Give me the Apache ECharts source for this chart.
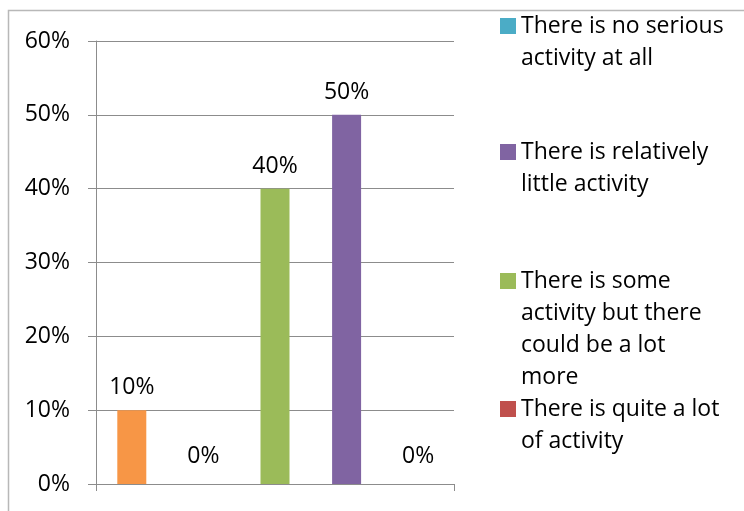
<!DOCTYPE html>
<html>
<head>
<meta charset="utf-8">
<script src="https://cdn.jsdelivr.net/npm/echarts@6/dist/echarts.min.js"></script>
<style>
  html, body { margin: 0; padding: 0; background: #fff; }
  #chart { width: 744px; height: 511px; }
</style>
</head>
<body>
<div id="chart"></div>
<script>
// Answers, in the order the bars run along the axis
const categories = [
  'There is a great deal of activity',
  'There is quite a lot of activity',
  'There is some activity but there could be a lot more',
  'There is relatively little activity',
  'There is no serious activity at all'
];
// Share of responses for each answer
const values = [0.10, 0, 0.40, 0.50, 0];
// Y axis ticks
const yTicks = [0, 0.1, 0.2, 0.3, 0.4, 0.5, 0.6];
// Legend entries (indices into categories), top to bottom
const legendOrder = [4, 3, 2, 1];
// Wrapped legend text for each answer
const legendLines = [
  ['There is a great deal of', 'activity'],
  ['There is quite a lot', 'of activity'],
  ['There is some', 'activity but there', 'could be a lot', 'more'],
  ['There is relatively', 'little activity'],
  ['There is no serious', 'activity at all']
];

const colors = ['#f79646', '#c0504d', '#9bbb59', '#8064a2', '#4bacc6'];
const FONT = '"Open Sans", "Liberation Sans", sans-serif';
const FONT_SIZE = 23;
const LINE = 32;
const SWATCH = 16;
const legendFirstLine = [18, 144, 273, 401];
const pct = v => Math.round(v * 100) + '%';

const series = categories.map((name, i) => ({
  name: name,
  type: 'bar',
  barWidth: 29,
  barGap: '-100%',
  itemStyle: { color: colors[i] },
  label: {
    show: true,
    position: 'top',
    color: '#000',
    fontFamily: FONT,
    fontSize: FONT_SIZE,
    formatter: p => pct(p.value)
  },
  data: categories.map((_, j) => j === i
    ? { value: values[i], label: { distance: values[i] === 0 ? 16 : 11 } }
    : '-')
}));

// Each legend entry: a square swatch beside the first line of wrapped text.
// The icon path reaches down below the swatch (invisibly) so the text block,
// which is centred on the icon, starts level with the swatch.
const legends = legendOrder.map((idx, k) => {
  const n = legendLines[idx].length;
  const h = SWATCH + (n - 1) * LINE;
  return {
    orient: 'vertical',
    left: 500,
    top: legendFirstLine[k] - SWATCH / 2,
    padding: 0,
    itemGap: 0,
    itemWidth: SWATCH,
    itemHeight: h,
    icon: 'path://M0,0L' + SWATCH + ',0L' + SWATCH + ',' + SWATCH + 'L0,' + SWATCH + 'ZM0,' + h + 'L0,' + h,
    selectedMode: false,
    data: [categories[idx]],
    formatter: () => legendLines[idx].join('\n'),
    textStyle: {
      fontFamily: FONT,
      fontSize: FONT_SIZE,
      color: '#000',
      lineHeight: LINE
    }
  };
});

const chart = echarts.init(document.getElementById('chart'), null, { renderer: 'canvas' });
chart.setOption({
  animation: false,
  backgroundColor: '#fff',
  textStyle: { fontFamily: FONT },
  graphic: [{
    type: 'rect',
    shape: { x: 8.5, y: 10.5, width: 1000, height: 1000 },
    style: { fill: 'none', stroke: '#b8b8b8', lineWidth: 1.5 },
    silent: true,
    z: -10
  }],
  legend: legends,
  grid: { left: 96, right: 290, top: 41, bottom: 27, containLabel: false },
  xAxis: {
    type: 'category',
    data: categories,
    axisLabel: { show: false },
    axisLine: { lineStyle: { color: '#8c8c8c', width: 1 } },
    axisTick: { show: true, length: 7, lineStyle: { color: '#8c8c8c' } },
    splitLine: { show: false }
  },
  yAxis: {
    type: 'value',
    min: yTicks[0],
    max: yTicks[yTicks.length - 1],
    interval: yTicks[1] - yTicks[0],
    axisLine: { show: true, lineStyle: { color: '#8c8c8c', width: 1 } },
    axisTick: { show: true, length: 8, lineStyle: { color: '#8c8c8c' } },
    axisLabel: {
      margin: 26,
      color: '#000',
      fontFamily: FONT,
      fontSize: FONT_SIZE,
      formatter: v => pct(v)
    },
    splitLine: { lineStyle: { color: '#8c8c8c', width: 1 } }
  },
  series: series
});
</script>
</body>
</html>
